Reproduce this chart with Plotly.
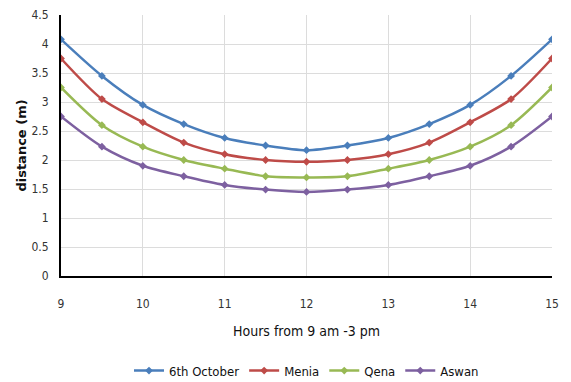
import plotly.graph_objects as go

hours = [9, 9.5, 10, 10.5, 11, 11.5, 12, 12.5, 13, 13.5, 14, 14.5, 15]
october6 = [4.08, 3.45, 2.95, 2.62, 2.38, 2.25, 2.17, 2.25, 2.38, 2.62, 2.95, 3.45, 4.08]
menia = [3.75, 3.05, 2.65, 2.30, 2.10, 2.00, 1.97, 2.00, 2.10, 2.30, 2.65, 3.05, 3.75]
qena = [3.25, 2.60, 2.23, 2.00, 1.85, 1.72, 1.70, 1.72, 1.85, 2.00, 2.23, 2.60, 3.25]
aswan = [2.75, 2.23, 1.90, 1.72, 1.57, 1.49, 1.45, 1.49, 1.57, 1.72, 1.90, 2.23, 2.75]

series_names = ["6th October", "Menia", "Qena", "Aswan"]
series_values = [october6, menia, qena, aswan]
colors = ["#4a7ebb", "#be4b48", "#98b954", "#7d60a0"]

FONT = "DejaVu Sans Condensed, Liberation Sans Narrow, sans-serif"

fig = go.Figure()
for name, vals, c in zip(series_names, series_values, colors):
    fig.add_trace(go.Scatter(
        x=hours, y=vals, name=name, mode="lines+markers",
        line=dict(color=c, width=2.5, shape="spline", smoothing=0.8),
        marker=dict(color=c, size=6, symbol="diamond"),
    ))

fig.update_layout(
    width=571, height=382,
    margin=dict(l=61, r=19, t=15, b=106, autoexpand=False),
    paper_bgcolor="white", plot_bgcolor="white",
    font=dict(family=FONT, size=12, color="#333333"),
    showlegend=True,
    legend=dict(orientation="h", x=0.5, xanchor="center", y=-0.305, yanchor="top",
                font=dict(family=FONT, size=13, color="#111111"),
                itemwidth=30, tracegroupgap=0),
    xaxis=dict(range=[9, 15], dtick=1, showgrid=True, gridcolor="#dcdcdc", gridwidth=1,
               showline=True, linecolor="black", linewidth=2, zeroline=False,
               ticks="", ticklabelstandoff=16, automargin=False,
               tickfont=dict(family=FONT, size=12, color="#333333"),
               title=dict(text="Hours from 9 am -3 pm", standoff=16,
                          font=dict(family=FONT, size=14, color="#111111"))),
    yaxis=dict(range=[0, 4.5], dtick=0.5, showgrid=True, gridcolor="#dcdcdc", gridwidth=1,
               showline=True, linecolor="black", linewidth=2, zeroline=False,
               ticks="", ticklabelstandoff=8, automargin=False,
               tickfont=dict(family=FONT, size=12, color="#333333"),
               title=dict(text="<b>distance (m)</b>", standoff=2,
                          font=dict(family="DejaVu Sans, sans-serif", size=13, color="#111111"))),
)
fig.write_html("out.html")
